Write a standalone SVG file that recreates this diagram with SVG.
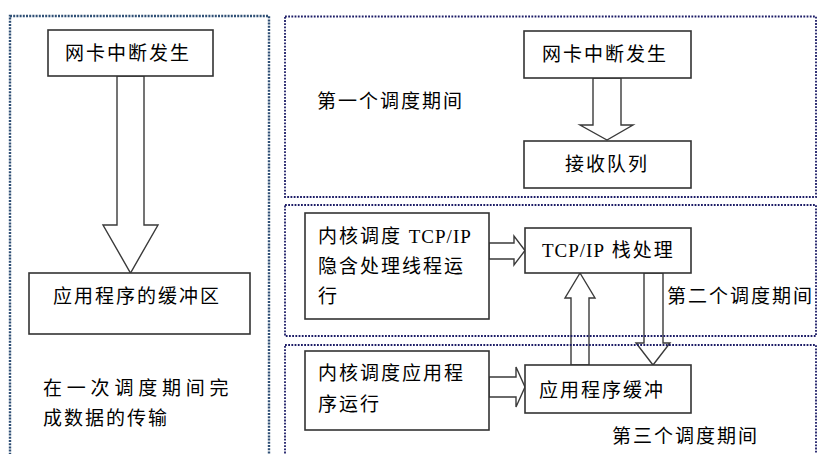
<svg xmlns="http://www.w3.org/2000/svg" width="818" height="454" viewBox="0 0 818 454">
<style>
.bg{fill:#ffffff}
.box{fill:#ffffff;stroke:#333333;stroke-width:1.6}
.arr{fill:#ffffff;stroke:#3a3a3a;stroke-width:1.4;stroke-linejoin:miter}
.t{font-family:"Liberation Serif","Noto Sans CJK SC",serif;font-size:19px;fill:#000;letter-spacing:2px}
.lat{letter-spacing:1px}
.pl{fill:none;stroke:#2f4f75;stroke-width:2.4;stroke-dasharray:2 1.2}
.pr{fill:none;stroke:#1c1c66;stroke-width:1.8;stroke-dasharray:1.8 1.4}
</style>
<rect class="bg" x="0" y="0" width="818" height="454"/>
<g id="connectors">
<polygon class="arr" points="117,76 144,76 144,225 158,225 130.5,273 103,225 117,225"/>
<polygon class="arr" points="593,78 621,78 621,125 633,125 607,140 580,125 593,125"/>
<polygon class="arr" points="489,243 514,243 514,236 525,250.5 514,265 514,259 489,259"/>
<polygon class="arr" points="571,365 571,298 565,298 580,273 595,298 589,298 589,365"/>
<polygon class="arr" points="644,273 663,273 663,343 670,343 653,365 636,343 644,343"/>
<polygon class="arr" points="489,377 516,377 516,367 525,387 516,407 516,397 489,397"/>
</g>
<g id="panel-left">
<rect class="pl" x="10" y="16" width="259" height="450"/>
<text class="t" x="43" y="395" style="letter-spacing:4.8px">在一次调度期间完</text>
<text class="t" x="43" y="425">成数据的传输</text>
</g>
<g id="panel-1">
<rect class="pr" x="285" y="16.5" width="531" height="180.5"/>
<text class="t" x="317" y="108">第一个调度期间</text>
</g>
<g id="panel-2">
<rect class="pr" x="285" y="205" width="531" height="131"/>
<text class="t" x="667" y="303">第二个调度期间</text>
</g>
<g id="panel-3">
<rect class="pr" x="285" y="345" width="531" height="120"/>
<text class="t" x="612" y="443">第三个调度期间</text>
</g>
<g id="node-left-nic">
<rect class="box" x="48" y="30" width="165" height="46"/>
<text class="t" x="65" y="60">网卡中断发生</text>
</g>
<g id="node-left-buffer">
<rect class="box" x="29" y="273" width="221" height="61"/>
<text class="t" x="53" y="303">应用程序的缓冲区</text>
</g>
<g id="node-nic">
<rect class="box" x="524" y="31" width="167" height="47"/>
<text class="t" x="542" y="61">网卡中断发生</text>
</g>
<g id="node-queue">
<rect class="box" x="524" y="141" width="167" height="47"/>
<text class="t" x="565" y="171">接收队列</text>
</g>
<g id="node-kernel-tcp">
<rect class="box" x="305" y="213" width="184" height="106"/>
<text class="t" x="318" y="243">内核调度 <tspan class="lat">TCP/IP</tspan></text>
<text class="t" x="318" y="273">隐含处理线程运</text>
<text class="t" x="318" y="303">行</text>
</g>
<g id="node-tcp-stack">
<rect class="box" x="525" y="228" width="166" height="45"/>
<text class="t" x="542" y="257"><tspan class="lat">TCP/IP</tspan> 栈处理</text>
</g>
<g id="node-kernel-app">
<rect class="box" x="305" y="351" width="184" height="79"/>
<text class="t" x="318" y="380">内核调度应用程</text>
<text class="t" x="318" y="411">序运行</text>
</g>
<g id="node-app-buffer">
<rect class="box" x="525" y="365" width="166" height="48"/>
<text class="t" x="539" y="397">应用程序缓冲</text>
</g>
</svg>
